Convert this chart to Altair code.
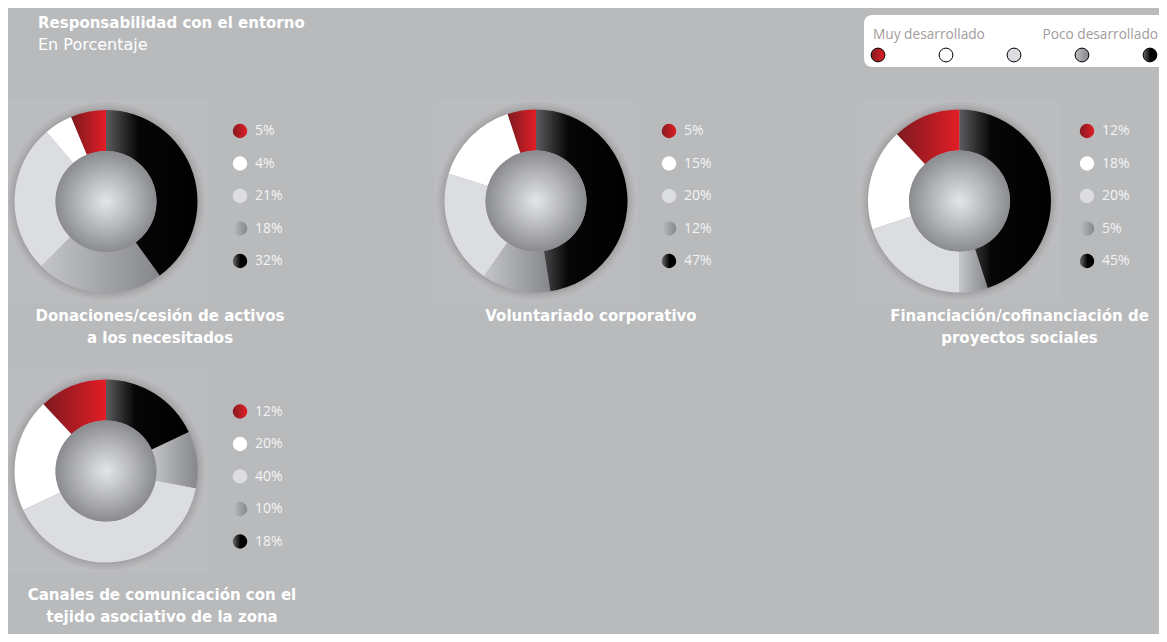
import math
import altair as alt
import pandas as pd

# ---------------- data ----------------
TITLE = "Responsabilidad con el entorno"
SUBTITLE = "En Porcentaje"
LEVELS = ["Muy desarrollado", "Bastante desarrollado", "Desarrollado", "Algo desarrollado", "Poco desarrollado"]
LEGEND_ENDS = ["Muy desarrollado", "Poco desarrollado"]
PANEL_TITLES = [
    "Donaciones/cesión de activos\na los necesitados",
    "Voluntariado corporativo",
    "Financiación/cofinanciación de\nproyectos sociales",
    "Canales de comunicación con el\ntejido asociativo de la zona",
]
DONACIONES = [5, 4, 21, 18, 32]
VOLUNTARIADO = [5, 15, 20, 12, 47]
FINANCIACION = [12, 18, 20, 5, 45]
CANALES = [12, 20, 40, 10, 18]
SERIES = [DONACIONES, VOLUNTARIADO, FINANCIACION, CANALES]

rows = []
for p, vals in enumerate(SERIES):
    for i, v in enumerate(vals):
        rows.append({"panel": p, "nivel": i, "orden": 4 - i, "valor": v, "etiqueta": f"{v}%"})
df = pd.DataFrame(rows)
titles_df = pd.DataFrame({"panel": list(range(4)), "titulo": PANEL_TITLES})
levels_df = pd.DataFrame({"nivel": list(range(5)), "nombre": LEVELS})
ends_df = pd.DataFrame({"texto": LEGEND_ENDS})
head_df = pd.DataFrame({"texto": [TITLE], "sub": [SUBTITLE]})

# ---------------- styles / layout ----------------
BG = "#b9babc"
FONT = "Open Sans"
TFONT = "DejaVu Sans"
W, H = 1151, 626
R_OUT, R_IN = 91.5, 50.5
CENTERS = [(98, 193.5), (528, 193), (951.5, 193), (98, 463)]
DOT_X = [232, 661, 1079, 232]
DOT_Y0 = [123, 123, 123, 403.5]
DOT_STEP = 32.5
TITLE_POS = [(152, 313), (583, 313), (1011.5, 313), (154, 592)]
TWO_PI = 2 * math.pi


def lin(stops):
    return alt.LinearGradient(
        gradient="linear",
        stops=[alt.GradientStop(color=c, offset=o) for o, c in stops],
        x1=0, x2=1, y1=0, y2=0,
    )


SLICE_FILLS = [
    lin([(0, "#7c1a1f"), (1, "#e21d26")]),
    "#ffffff",
    "#dcdde0",
    lin([(0, "#c4c5c7"), (1, "#86878a")]),
    lin([(0, "#5b5c5e"), (0.35, "#060606"), (1, "#000000")]),
]
DOT_FILLS = [
    lin([(0, "#861b20"), (1, "#e01e26")]),
    "#ffffff",
    "#dcdde0",
    lin([(0, "#bdbec0"), (1, "#85868a")]),
    lin([(0, "#6a6b6d"), (0.55, "#000000"), (1, "#000000")]),
]
SPHERE = alt.RadialGradient(
    gradient="radial",
    stops=[
        alt.GradientStop(color="#e4e5e7", offset=0),
        alt.GradientStop(color="#b4b5b8", offset=0.55),
        alt.GradientStop(color="#8a8b8e", offset=1),
    ],
    x1=0.5, y1=0.5, r1=0, x2=0.5, y2=0.5, r2=0.5,
)
THETA = alt.Scale(domain=[0, 1], range=[0, TWO_PI])

one = alt.Chart(pd.DataFrame({"k": [0]}))
layers = []

# header
layers.append(
    alt.Chart(head_df).mark_text(align="left", baseline="alphabetic", font=TFONT, fontSize=15,
                                 fontWeight="bold", color="#ffffff")
    .encode(text="texto:N", x=alt.value(30), y=alt.value(20))
)
layers.append(
    alt.Chart(head_df).mark_text(align="left", baseline="alphabetic", font=TFONT, fontSize=16,
                                 color="#ffffff")
    .encode(text="sub:N", x=alt.value(30), y=alt.value(42))
)

# top-right legend
layers.append(
    one.mark_rect(fill="#ffffff", cornerRadius=8)
    .encode(x=alt.value(856), x2=alt.value(1175), y=alt.value(7), y2=alt.value(59))
)
layers.append(
    alt.Chart(ends_df).transform_filter(alt.datum.texto == LEGEND_ENDS[0])
    .mark_text(align="left", font=FONT, fontSize=13.7, color="#a39c9c")
    .encode(text="texto:N", x=alt.value(865), y=alt.value(27))
)
layers.append(
    alt.Chart(ends_df).transform_filter(alt.datum.texto == LEGEND_ENDS[1])
    .mark_text(align="right", font=FONT, fontSize=13.7, color="#a39c9c")
    .encode(text="texto:N", x=alt.value(1150), y=alt.value(27))
)
LEG_X = alt.Scale(domain=[0, 4], range=[870, 1142])
for i in range(5):
    layers.append(
        alt.Chart(levels_df).transform_filter(alt.datum.nivel == i)
        .mark_point(filled=True, shape="circle", size=190, fill=DOT_FILLS[i], stroke="#000000",
                    strokeWidth=1, opacity=1)
        .encode(x=alt.X("nivel:Q", scale=LEG_X, axis=None), y=alt.value(47))
    )

# panels
for p in range(4):
    cx, cy = CENTERS[p]
    base = alt.Chart(df).transform_filter(alt.datum.panel == p)
    # soft light square and halo
    layers.append(
        one.mark_rect(fill="#bbbcbe")
        .encode(x=alt.value(cx - 102), x2=alt.value(cx + 102), y=alt.value(cy - 102), y2=alt.value(cy + 102))
    )
    for rad, op in [(99, 0.10), (96, 0.14), (93.5, 0.2)]:
        layers.append(
            one.mark_arc(radius=rad, theta=0, theta2=TWO_PI, fill="#808184", opacity=op)
            .encode(x=alt.value(cx), y=alt.value(cy))
        )
    stacked = base.transform_stack(
        stack="valor", groupby=[], as_=["v0", "v1"],
        sort=[alt.SortField("orden", order="ascending")], offset="normalize",
    )
    for i in range(5):
        layers.append(
            stacked.transform_filter(alt.datum.nivel == i)
            .mark_arc(radius=R_OUT, radius2=R_IN, fill=SLICE_FILLS[i])
            .encode(
                theta=alt.Theta("v0:Q", scale=THETA, stack=None),
                theta2="v1:Q",
                x=alt.value(cx), y=alt.value(cy),
            )
        )
    layers.append(
        one.mark_arc(radius=R_IN, theta=0, theta2=TWO_PI, fill=SPHERE)
        .encode(x=alt.value(cx), y=alt.value(cy))
    )
    ysc = alt.Scale(domain=[0, 4], range=[DOT_Y0[p], DOT_Y0[p] + 4 * DOT_STEP])
    for i in range(5):
        layers.append(
            base.transform_filter(alt.datum.nivel == i)
            .mark_point(filled=True, shape="circle", size=210, fill=DOT_FILLS[i], opacity=1, strokeWidth=0)
            .encode(x=alt.value(DOT_X[p]), y=alt.Y("nivel:Q", scale=ysc, axis=None))
        )
    layers.append(
        base.mark_text(align="left", baseline="middle", font=FONT, fontSize=14, color="#f4f4f4")
        .encode(text="etiqueta:N", x=alt.value(DOT_X[p] + 15), y=alt.Y("nivel:Q", scale=ysc, axis=None))
    )
    tx, ty = TITLE_POS[p]
    layers.append(
        alt.Chart(titles_df).transform_filter(alt.datum.panel == p)
        .mark_text(align="center", baseline="alphabetic", font=TFONT, fontSize=15, fontWeight="bold",
                   color="#ffffff", lineBreak="\n", lineHeight=22)
        .encode(text="titulo:N", x=alt.value(tx), y=alt.value(ty))
    )

chart = (
    alt.layer(*layers)
    .resolve_scale(x="independent", y="independent")
    .properties(width=W, height=H, padding=0, autosize="none", background=BG)
    .configure_view(stroke=None)
)

chart.save("out.html", embed_options={"renderer": "svg", "actions": False})
